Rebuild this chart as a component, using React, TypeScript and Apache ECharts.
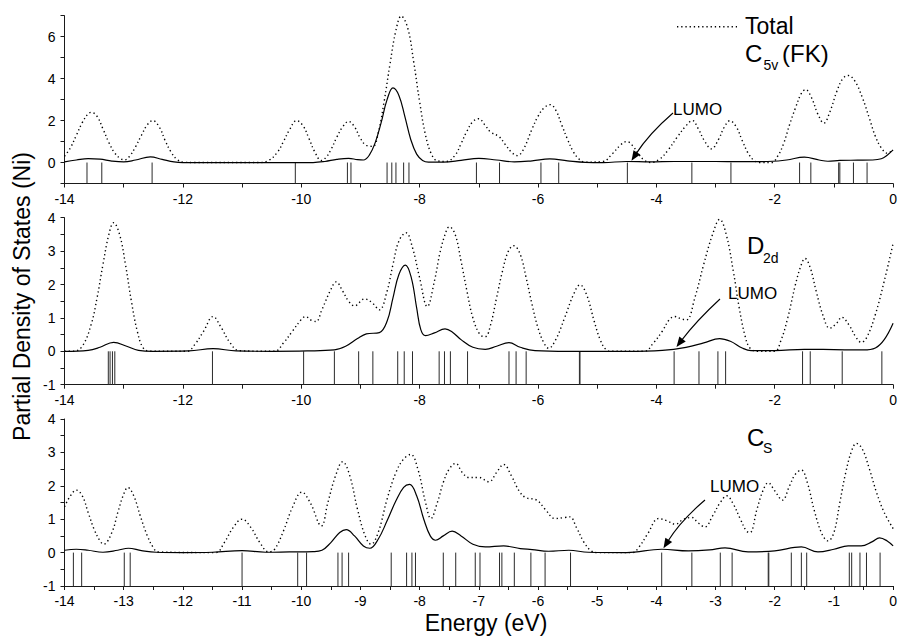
import React, { useEffect, useRef } from "react";
import * as echarts from "echarts";

const FONT = "'Liberation Sans', Arial, Helvetica, sans-serif";

// ---- Panel 1: C5v (FK) ----
const topTotal: number[][] = [
  [-14, 0.3], [-13.9, 0.7], [-13.8, 1.3], [-13.7, 1.9], [-13.6, 2.33], [-13.55, 2.39], [-13.45, 2.2], [-13.35, 1.6],
  [-13.25, 0.95], [-13.15, 0.45], [-13.05, 0.18], [-12.98, 0.13], [-12.9, 0.3], [-12.8, 0.75], [-12.7, 1.3], [-12.6, 1.8],
  [-12.51, 2.0], [-12.4, 1.7], [-12.3, 1.05], [-12.2, 0.5], [-12.1, 0.15], [-12.0, 0.02], [-11.8, 0], [-10.7, 0],
  [-10.55, 0.1], [-10.4, 0.5], [-10.3, 1.0], [-10.2, 1.55], [-10.08, 2.0], [-9.97, 1.75], [-9.87, 1.15], [-9.77, 0.5],
  [-9.66, 0.1], [-9.58, 0.25], [-9.5, 0.6], [-9.4, 1.2], [-9.3, 1.7], [-9.2, 1.96], [-9.1, 1.7], [-9.0, 1.15],
  [-8.9, 0.82], [-8.79, 0.77], [-8.7, 1.4], [-8.6, 2.9], [-8.5, 4.7], [-8.4, 6.3], [-8.31, 6.98], [-8.2, 6.4],
  [-8.1, 4.8], [-8.0, 2.9], [-7.9, 1.3], [-7.8, 0.4], [-7.7, 0.08], [-7.55, 0.05], [-7.4, 0.35], [-7.3, 0.9],
  [-7.2, 1.5], [-7.1, 1.95], [-7.0, 2.09], [-6.9, 1.8], [-6.8, 1.45], [-6.66, 1.24], [-6.55, 0.85], [-6.45, 0.5],
  [-6.35, 0.33], [-6.25, 0.6], [-6.1, 1.6], [-6.0, 2.2], [-5.9, 2.6], [-5.79, 2.76], [-5.7, 2.5], [-5.6, 1.8],
  [-5.5, 1.1], [-5.4, 0.5], [-5.3, 0.15], [-5.2, 0.02], [-4.9, 0.05], [-4.75, 0.4], [-4.6, 0.85], [-4.5, 1.0],
  [-4.4, 0.8], [-4.3, 0.4], [-4.2, 0.1], [-4.1, 0.0], [-3.95, 0.15], [-3.8, 0.6], [-3.65, 1.2], [-3.5, 1.75],
  [-3.39, 2.0], [-3.3, 1.65], [-3.18, 1.0], [-3.07, 0.65], [-2.95, 1.1], [-2.85, 1.7], [-2.76, 1.99], [-2.65, 1.7],
  [-2.55, 1.05], [-2.45, 0.45], [-2.35, 0.1], [-2.25, 0.0], [-2.05, 0.0], [-1.95, 0.3], [-1.85, 0.9], [-1.75, 1.8],
  [-1.65, 2.6], [-1.55, 3.3], [-1.48, 3.48], [-1.38, 3.1], [-1.27, 2.3], [-1.17, 1.88], [-1.07, 2.4], [-0.95, 3.4],
  [-0.85, 4.0], [-0.76, 4.15], [-0.65, 3.9], [-0.52, 3.1], [-0.4, 2.1], [-0.3, 1.25], [-0.2, 0.7], [-0.1, 0.45], [0, 0.6],
];
const topNi: number[][] = [
  [-14, 0.03], [-13.8, 0.12], [-13.6, 0.19], [-13.4, 0.16], [-13.2, 0.07], [-13.0, 0.03], [-12.8, 0.12], [-12.55, 0.27],
  [-12.35, 0.15], [-12.15, 0.03], [-12.0, 0.0], [-9.8, 0.0], [-9.6, 0.05], [-9.4, 0.15], [-9.2, 0.2], [-9.05, 0.14],
  [-8.95, 0.12], [-8.85, 0.35], [-8.75, 0.95], [-8.65, 1.9], [-8.55, 3.0], [-8.45, 3.56], [-8.35, 3.2], [-8.25, 2.2],
  [-8.15, 1.1], [-8.05, 0.4], [-7.95, 0.1], [-7.85, 0.02], [-7.6, 0.02], [-7.3, 0.1], [-7.0, 0.2], [-6.7, 0.12],
  [-6.4, 0.03], [-6.1, 0.08], [-5.8, 0.17], [-5.5, 0.08], [-5.2, 0.01], [-4.9, 0.0], [-4.5, 0.05], [-4.1, 0.03],
  [-3.7, 0.05], [-3.4, 0.05], [-3.0, 0.05], [-2.6, 0.04], [-2.2, 0.04], [-1.8, 0.12], [-1.5, 0.26], [-1.25, 0.12],
  [-1.1, 0.06], [-0.9, 0.1], [-0.6, 0.11], [-0.35, 0.12], [-0.2, 0.18], [-0.1, 0.35], [0, 0.6],
];
const topLevels: number[] = [
  -13.62, -13.37, -12.52, -10.1, -9.22, -9.16, -8.55, -8.47, -8.4, -8.27, -8.18, -7.04, -6.65, -5.95, -5.65,
  -4.49, -3.4, -2.74, -1.58, -1.39, -0.92, -0.9, -0.67, -0.44,
];

// ---- Panel 2: D2d ----
const midTotal: number[][] = [
  [-14, 0], [-13.85, 0.0], [-13.7, 0.15], [-13.55, 0.8], [-13.45, 1.6], [-13.35, 2.6], [-13.25, 3.5], [-13.17, 3.85],
  [-13.07, 3.5], [-12.97, 2.6], [-12.87, 1.5], [-12.77, 0.6], [-12.67, 0.1], [-12.55, 0.0], [-11.93, 0.0], [-11.8, 0.2],
  [-11.65, 0.6], [-11.49, 1.04], [-11.35, 0.7], [-11.2, 0.25], [-11.05, 0.02], [-10.45, 0.0], [-10.3, 0.25], [-10.15, 0.6],
  [-10.0, 0.95], [-9.93, 1.04], [-9.82, 0.92], [-9.75, 0.89], [-9.65, 1.25], [-9.5, 1.85], [-9.41, 2.08], [-9.3, 1.8],
  [-9.2, 1.5], [-9.1, 1.36], [-8.93, 1.57], [-8.8, 1.45], [-8.68, 1.24], [-8.55, 1.8], [-8.45, 2.6], [-8.35, 3.3],
  [-8.23, 3.55], [-8.12, 3.1], [-8.0, 2.2], [-7.87, 1.34], [-7.75, 2.1], [-7.65, 3.0], [-7.55, 3.6], [-7.5, 3.73],
  [-7.4, 3.5], [-7.3, 2.7], [-7.2, 1.8], [-7.1, 1.0], [-6.98, 0.5], [-6.89, 0.44], [-6.8, 0.8], [-6.7, 1.6],
  [-6.6, 2.4], [-6.5, 3.0], [-6.41, 3.16], [-6.3, 2.9], [-6.2, 2.2], [-6.1, 1.4], [-6.0, 0.7], [-5.9, 0.25],
  [-5.82, 0.09], [-5.7, 0.35], [-5.55, 1.0], [-5.4, 1.7], [-5.29, 1.99], [-5.18, 1.7], [-5.05, 0.9], [-4.95, 0.35],
  [-4.85, 0.05], [-4.75, 0.0], [-4.2, 0.0], [-4.05, 0.25], [-3.9, 0.6], [-3.78, 0.95], [-3.69, 1.04], [-3.58, 0.97],
  [-3.49, 0.94], [-3.35, 1.6], [-3.2, 2.6], [-3.05, 3.5], [-2.93, 3.95], [-2.82, 3.5], [-2.7, 2.4], [-2.6, 1.3],
  [-2.5, 0.45], [-2.42, 0.1], [-2.3, 0.0], [-2.0, 0.0], [-1.9, 0.3], [-1.78, 1.0], [-1.65, 2.0], [-1.55, 2.6],
  [-1.49, 2.78], [-1.4, 2.5], [-1.3, 1.8], [-1.18, 1.05], [-1.07, 0.69], [-0.95, 0.85], [-0.87, 1.02], [-0.75, 0.8],
  [-0.62, 0.4], [-0.54, 0.27], [-0.45, 0.4], [-0.3, 1.1], [-0.15, 2.1], [0, 3.23],
];
const midNi: number[][] = [
  [-14, 0], [-13.6, 0.03], [-13.4, 0.12], [-13.17, 0.27], [-12.95, 0.15], [-12.75, 0.03], [-12.5, 0.0], [-11.9, 0.01],
  [-11.49, 0.08], [-11.1, 0.01], [-10.5, 0.0], [-9.9, 0.01], [-9.44, 0.04], [-9.25, 0.15], [-9.05, 0.38], [-8.9, 0.52],
  [-8.68, 0.56], [-8.55, 0.9], [-8.45, 1.6], [-8.35, 2.3], [-8.24, 2.58], [-8.14, 2.2], [-8.05, 1.3], [-7.98, 0.65],
  [-7.9, 0.47], [-7.75, 0.55], [-7.57, 0.67], [-7.45, 0.58], [-7.3, 0.35], [-7.1, 0.12], [-6.89, 0.06], [-6.7, 0.15],
  [-6.49, 0.26], [-6.3, 0.12], [-6.05, 0.02], [-5.5, 0.0], [-4.5, 0.0], [-3.9, 0.03], [-3.5, 0.12], [-3.2, 0.25],
  [-2.93, 0.38], [-2.75, 0.3], [-2.55, 0.1], [-2.4, 0.02], [-2.0, 0.02], [-1.5, 0.06], [-1.0, 0.05], [-0.5, 0.04],
  [-0.3, 0.1], [-0.15, 0.35], [0, 0.84],
];
const midLevels: number[] = [
  -13.26, -13.23, -13.19, -13.15, -11.5, -9.96, -9.44, -9.03, -8.79, -8.37, -8.26, -8.12, -7.67, -7.58, -7.48,
  -7.19, -6.49, -6.37, -6.2, -5.3, -5.29, -3.7, -3.28, -2.96, -2.83, -1.53, -1.4, -0.86, -0.19,
];

// ---- Panel 3: Cs ----
const botTotal: number[][] = [
  [-14, 1.37], [-13.9, 1.7], [-13.8, 1.87], [-13.7, 1.7], [-13.6, 1.2], [-13.5, 0.7], [-13.4, 0.35], [-13.34, 0.25],
  [-13.2, 0.6], [-13.1, 1.2], [-13.0, 1.75], [-12.93, 1.95], [-12.83, 1.7], [-12.72, 1.1], [-12.6, 0.5], [-12.5, 0.15],
  [-12.42, 0.02], [-11.45, 0.0], [-11.3, 0.3], [-11.15, 0.75], [-11.0, 1.0], [-10.85, 0.75], [-10.7, 0.3], [-10.55, 0.02],
  [-10.45, 0.1], [-10.3, 0.65], [-10.15, 1.35], [-9.99, 1.81], [-9.85, 1.5], [-9.66, 0.8], [-9.55, 1.5], [-9.42, 2.3],
  [-9.3, 2.72], [-9.18, 2.3], [-9.05, 1.3], [-8.92, 0.5], [-8.82, 0.25], [-8.7, 0.6], [-8.55, 1.6], [-8.4, 2.4],
  [-8.27, 2.8], [-8.15, 2.94], [-8.03, 2.5], [-7.9, 1.5], [-7.81, 1.02], [-7.7, 1.5], [-7.6, 2.1], [-7.5, 2.5],
  [-7.39, 2.67], [-7.28, 2.4], [-7.17, 2.25], [-7.0, 2.25], [-6.83, 2.12], [-6.7, 2.4], [-6.58, 2.64], [-6.45, 2.3],
  [-6.32, 1.85], [-6.21, 1.65], [-6.02, 1.57], [-5.88, 1.3], [-5.71, 1.02], [-5.55, 1.05], [-5.46, 1.07], [-5.35, 0.75],
  [-5.22, 0.3], [-5.1, 0.05], [-5.0, 0.0], [-4.4, 0.0], [-4.3, 0.15], [-4.15, 0.55], [-3.96, 1.02], [-3.82, 0.95],
  [-3.68, 0.85], [-3.54, 1.0], [-3.4, 1.05], [-3.3, 0.9], [-3.18, 0.77], [-3.05, 1.1], [-2.92, 1.5], [-2.81, 1.7],
  [-2.7, 1.45], [-2.58, 1.0], [-2.48, 0.65], [-2.42, 0.6], [-2.3, 1.3], [-2.2, 1.85], [-2.11, 2.09], [-2.0, 1.85],
  [-1.87, 1.57], [-1.75, 2.0], [-1.65, 2.35], [-1.55, 2.47], [-1.45, 2.1], [-1.33, 1.25], [-1.2, 0.55], [-1.1, 0.35],
  [-1.0, 0.6], [-0.9, 1.5], [-0.8, 2.4], [-0.7, 3.05], [-0.62, 3.27], [-0.52, 3.1], [-0.4, 2.5], [-0.28, 1.8],
  [-0.15, 1.2], [0, 0.72],
];
const botNi: number[][] = [
  [-14, 0.07], [-13.8, 0.1], [-13.6, 0.07], [-13.35, 0.01], [-13.1, 0.07], [-12.92, 0.13], [-12.7, 0.06], [-12.45, 0.01],
  [-12.0, 0.0], [-11.5, 0.01], [-11.0, 0.06], [-10.6, 0.01], [-10.2, 0.02], [-9.8, 0.03], [-9.65, 0.07], [-9.5, 0.3],
  [-9.35, 0.6], [-9.24, 0.69], [-9.1, 0.5], [-8.95, 0.2], [-8.84, 0.13], [-8.7, 0.4], [-8.55, 0.95], [-8.4, 1.55],
  [-8.27, 1.95], [-8.17, 2.04], [-8.05, 1.7], [-7.93, 1.0], [-7.82, 0.5], [-7.73, 0.37], [-7.6, 0.5], [-7.45, 0.64],
  [-7.3, 0.5], [-7.1, 0.25], [-6.89, 0.17], [-6.58, 0.2], [-6.3, 0.12], [-6.1, 0.09], [-5.82, 0.04], [-5.48, 0.07],
  [-5.15, 0.01], [-4.5, 0.0], [-3.91, 0.1], [-3.46, 0.05], [-3.1, 0.08], [-2.84, 0.14], [-2.45, 0.02], [-2.0, 0.05],
  [-1.55, 0.17], [-1.27, 0.02], [-1.0, 0.1], [-0.76, 0.2], [-0.54, 0.2], [-0.35, 0.33], [-0.23, 0.44], [-0.1, 0.35],
  [0, 0.2],
];
const botLevels: number[] = [
  -13.85, -13.71, -12.99, -12.89, -11.0, -10.06, -9.91, -9.38, -9.31, -9.2, -8.48, -8.22, -8.13, -8.07, -7.6,
  -7.39, -7.06, -6.98, -6.65, -6.61, -6.4, -6.12, -5.88, -5.45, -3.91, -3.4, -2.92, -2.72, -2.11, -2.1, -1.72,
  -1.55, -1.46, -0.74, -0.7, -0.56, -0.45, -0.22,
];

const totals = [topTotal, midTotal, botTotal];
const nis = [topNi, midNi, botNi];
const levels = [topLevels, midLevels, botLevels];
const panelNames = ["C5v (FK)", "D2d", "Cs"];

// LUMO arrow tip (data coords) per panel
const lumoTips: number[][] = [[-4.42, 0.08], [-3.66, 0.13], [-3.88, 0.13]];

const AX = "#1a1a1a";
const DOT_DASH = [1.3, 2.9];

export default function App() {
  const ref = useRef<HTMLDivElement>(null);
  useEffect(() => {
    document.body.style.margin = "0";
    const chart = echarts.init(ref.current!, null, { renderer: "svg" });

    const grids = [
      { left: 64.5, width: 830.5, top: 15.7, height: 167.8 },
      { left: 64.5, width: 830.5, top: 217.7, height: 167 },
      { left: 64.5, width: 830.5, top: 419, height: 167 },
    ];

    const baseAxis = {
      axisLine: { show: true, onZero: false, lineStyle: { color: AX, width: 1 } },
      axisTick: { show: true, inside: false, length: 4, lineStyle: { color: AX, width: 1 } },
      splitLine: { show: false },
      axisLabel: { color: "#000", fontSize: 14, fontFamily: FONT },
    };

    const xAxis = [0, 1, 2].map((i) => ({
      ...baseAxis,
      type: "value",
      gridIndex: i,
      min: -14,
      max: 0,
      interval: i === 2 ? 1 : 2,
      minorTick: { show: true, splitNumber: 2, length: 4, lineStyle: { color: AX, width: 1 } },
      minorSplitLine: { show: false },
      axisLabel: { ...baseAxis.axisLabel, margin: 8 },
    }));

    const yAxis = [0, 1, 2].map((i) => ({
      ...baseAxis,
      type: "value",
      gridIndex: i,
      min: -1,
      max: i === 0 ? 7 : 4,
      interval: 1,
      minorTick:
        i === 0
          ? { show: false }
          : { show: true, splitNumber: 2, length: 4, lineStyle: { color: AX, width: 1 } },
      minorSplitLine: { show: false },
      axisLabel: {
        ...baseAxis.axisLabel,
        margin: 9,
        formatter: (v: number) => (i === 0 ? (v >= 0 && v % 2 === 0 ? String(v) : "") : String(v)),
      },
    }));

    const series: any[] = [];
    [0, 1, 2].forEach((i) => {
      series.push({
        type: "line",
        name: "Total",
        xAxisIndex: i,
        yAxisIndex: i,
        data: totals[i],
        symbol: "none",
        showSymbol: false,
        smooth: 0.4,
        silent: true,
        lineStyle: { color: "#000", width: 1.4, type: DOT_DASH },
        itemStyle: { color: "#000" },
        z: 3,
      });
      series.push({
        type: "line",
        name: "Ni " + panelNames[i],
        xAxisIndex: i,
        yAxisIndex: i,
        data: nis[i],
        symbol: "none",
        showSymbol: false,
        smooth: 0.4,
        silent: true,
        lineStyle: { color: "#000", width: 1.2 },
        itemStyle: { color: "#000" },
        z: 4,
      });
      series.push({
        type: "custom",
        name: "Levels " + panelNames[i],
        xAxisIndex: i,
        yAxisIndex: i,
        data: levels[i].map((e) => [e, 0]),
        encode: { x: 0, y: 1 },
        silent: true,
        renderItem: (_p: any, api: any) => {
          const x = api.value(0);
          const a = api.coord([x, 0]);
          const b = api.coord([x, -1]);
          return {
            type: "line",
            shape: { x1: a[0], y1: a[1], x2: b[0], y2: b[1] },
            style: { stroke: "#2a2a2a", lineWidth: 1 },
          };
        },
        z: 2,
      });
    });

    chart.setOption({
      animation: false,
      backgroundColor: "#fff",
      grid: grids,
      xAxis,
      yAxis,
      series,
    });

    // annotations
    const txt = (text: string, x: number, y: number, size: number, extra: any = {}) => ({
      type: "text",
      x,
      y,
      silent: true,
      ...extra,
      style: {
        text,
        fontSize: size,
        fontFamily: FONT,
        fill: "#000",
        align: extra.align || "left",
        verticalAlign: "middle",
      },
    });

    const graphics: any[] = [
      // legend: dotted sample + label
      {
        type: "line",
        silent: true,
        shape: { x1: 677, y1: 26.7, x2: 737, y2: 26.7 },
        style: { stroke: "#000", lineWidth: 1.4, lineDash: DOT_DASH },
      },
      txt("Total", 745, 26, 23),
      txt("C", 745, 53.5, 24),
      txt("5v", 763.5, 64.5, 14),
      txt("(FK)", 782, 53.5, 24),
      txt("D", 747, 245.5, 24),
      txt("2d", 763, 257.5, 14),
      txt("C", 747, 437.5, 24),
      txt("S", 763, 447.5, 14),
      txt("LUMO", 673, 109, 17),
      txt("LUMO", 728, 293.5, 17),
      txt("LUMO", 710, 486.5, 17),
      {
        type: "text",
        x: 22,
        y: 296.5,
        rotation: Math.PI / 2,
        silent: true,
        style: {
          text: "Partial Density of States (Ni)",
          fontSize: 23,
          fontFamily: FONT,
          fill: "#000",
          align: "center",
          verticalAlign: "middle",
        },
      },
      txt("Energy (eV)", 486, 622.5, 23, { align: "center" }),
    ];

    const arrowStarts = [[673, 113], [720, 299], [705, 500]];
    const bends = [[-3.5, -3], [-2, -2], [-3.5, -3.5]];
    lumoTips.forEach((tipData, i) => {
      const tip = chart.convertToPixel({ xAxisIndex: i, yAxisIndex: i } as any, tipData) as number[];
      const s = arrowStarts[i];
      const cp = [(s[0] + tip[0]) / 2 + bends[i][0], (s[1] + tip[1]) / 2 + bends[i][1]];
      const dx = tip[0] - cp[0];
      const dy = tip[1] - cp[1];
      const len = Math.hypot(dx, dy);
      const ux = dx / len;
      const uy = dy / len;
      const L = 10;
      const W = 4;
      const bx = tip[0] - ux * L;
      const by = tip[1] - uy * L;
      graphics.push({
        type: "bezierCurve",
        silent: true,
        shape: { x1: s[0], y1: s[1], cpx1: cp[0], cpy1: cp[1], x2: bx + ux * 2, y2: by + uy * 2 },
        style: { stroke: "#000", lineWidth: 1.1, fill: null },
      });
      graphics.push({
        type: "polygon",
        silent: true,
        shape: {
          points: [
            [tip[0], tip[1]],
            [bx - uy * W, by + ux * W],
            [bx + uy * W, by - ux * W],
          ],
        },
        style: { fill: "#000" },
      });
    });

    chart.setOption({ graphic: graphics });

    return () => chart.dispose();
  }, []);
  return <div ref={ref} style={{ width: 900, height: 637 }} />;
}
